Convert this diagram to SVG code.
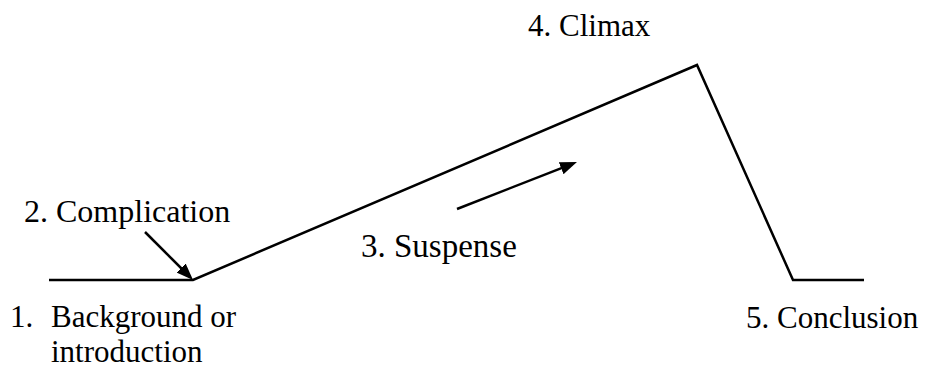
<svg xmlns="http://www.w3.org/2000/svg" width="925" height="370" viewBox="0 0 925 370">
  <style>
    .lbl { font-family: 'Liberation Serif', Tinos, serif; font-size: 31px; fill: #000; }
    .ln { fill: none; stroke: #000; stroke-width: 2.5; stroke-linejoin: miter; }
  </style>
  <defs>
    <marker id="ah" markerUnits="userSpaceOnUse" markerWidth="17" markerHeight="13" refX="12" refY="6.5" orient="auto">
      <path d="M0,0 L17,6.5 L0,13 z" fill="#000"/>
    </marker>
  </defs>
  <rect width="925" height="370" fill="#fff"/>
  <g id="connectors">
    <polyline class="ln" points="49,280 193,280 697,65 793,280 864,280"/>
    <line class="ln" x1="145" y1="232" x2="189.5" y2="276.5" marker-end="url(#ah)"/>
    <line class="ln" x1="457" y1="209" x2="572.3" y2="163.8" marker-end="url(#ah)"/>
  </g>
  <g id="n1"><text class="lbl" x="10" y="327">1. <tspan x="51">Background or</tspan></text><text class="lbl" x="51" y="362">introduction</text></g>
  <g id="n2"><text class="lbl" x="24" y="222" style="font-size:32px">2. Complication</text></g>
  <g id="n3"><text class="lbl" x="361" y="257" style="font-size:33px">3. Suspense</text></g>
  <g id="n4"><text class="lbl" x="528" y="36">4. Climax</text></g>
  <g id="n5"><text class="lbl" x="746" y="328">5. Conclusion</text></g>
</svg>
